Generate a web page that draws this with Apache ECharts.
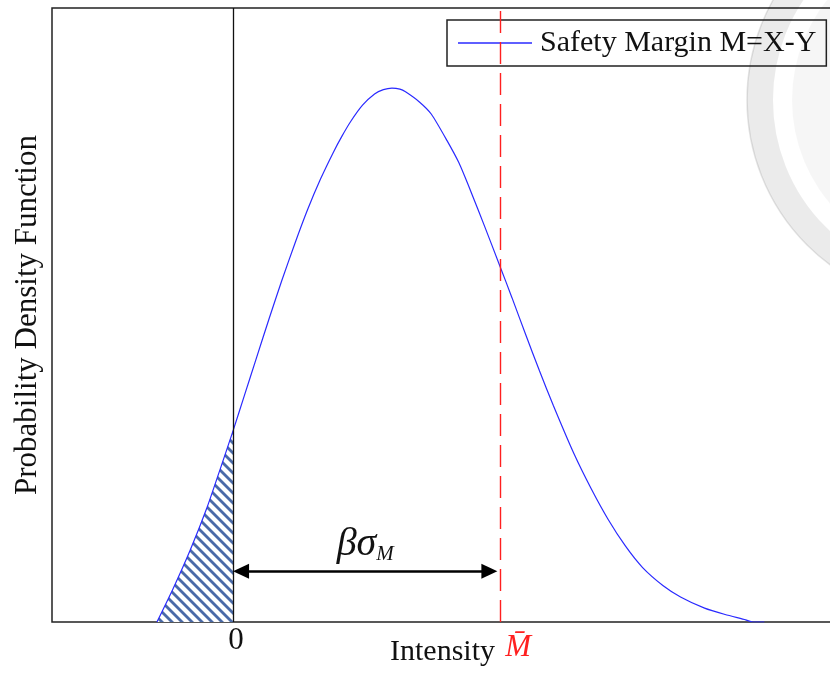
<!DOCTYPE html>
<html>
<head>
<meta charset="utf-8">
<script src="https://cdn.jsdelivr.net/npm/echarts@6/dist/echarts.min.js"></script>
<style>
  html, body { margin: 0; padding: 0; background: #fff; }
  #chart { width: 830px; height: 673px; }
</style>
</head>
<body>
<div id="chart"></div>
<script>
// Density of the safety margin M = X - Y (x in units of the mean M̄, y relative to the peak)
const curveX = [-0.285, -0.225, -0.161, -0.097, -0.049, 0, 0.043, 0.086, 0.135, 0.183, 0.231, 0.279,
  0.328, 0.376, 0.408, 0.440, 0.485, 0.530, 0.563, 0.595, 0.625, 0.646, 0.698, 0.743, 0.801, 0.846,
  0.891, 0.943, 1.0, 1.045, 1.097, 1.148, 1.200, 1.277, 1.341, 1.405, 1.470, 1.534, 1.611, 1.676,
  1.766, 1.843, 1.920, 1.946, 1.99];
const curveY = [0, 0.062, 0.134, 0.215, 0.285, 0.358, 0.425, 0.492, 0.568, 0.640, 0.708, 0.772,
  0.830, 0.880, 0.910, 0.937, 0.968, 0.989, 0.997, 1.0, 0.998, 0.993, 0.974, 0.951, 0.902, 0.860,
  0.806, 0.740, 0.666, 0.607, 0.537, 0.470, 0.405, 0.315, 0.250, 0.192, 0.142, 0.102, 0.068, 0.047,
  0.026, 0.014, 0.004, 0, 0];

// Axis ticks: zero and the mean margin
const tickValues = [0, 1];
const tickLabels = ['0', 'M\u0304'];

// Reference lines and the β·σ_M span (arrow shaft ends sit inside the two arrow heads)
const zeroLine = 0;
const meanLine = 1;
const spanStart = 0.03;
const spanEnd = 0.96;
const spanLevel = 0.095;

const legendName = 'Safety Margin M=X-Y';
const xName = 'Intensity';
const yName = 'Probability Density Function';

const serif = "'Times New Roman', 'Liberation Serif', serif";
const blue = '#2a2aff';

const curve = curveX.map((x, i) => [x, curveY[i]]);
const failure = curve.filter(p => p[0] <= zeroLine);

// diagonal hatch used for the failure region (M < 0)
function hatchPattern() {
  const s = 10;
  const c = document.createElement('canvas');
  c.width = s; c.height = s;
  const g = c.getContext('2d');
  g.fillStyle = '#ffffff';
  g.fillRect(0, 0, s, s);
  g.strokeStyle = '#4a6aa8';
  g.lineWidth = 2.8;
  for (let k = -1; k <= 1; k++) {
    g.beginPath();
    g.moveTo(k * s - 2, -2);
    g.lineTo(k * s + s + 2, s + 2);
    g.stroke();
  }
  return c;
}

const chart = echarts.init(document.getElementById('chart'), null, { renderer: 'canvas' });

chart.setOption({
  animation: false,
  backgroundColor: '#ffffff',
  grid: {
    left: 52, top: 8, right: -3, bottom: 51,
    containLabel: false,
    outerBoundsMode: 'none',
    show: true, borderColor: '#222', borderWidth: 1.5, backgroundColor: 'transparent'
  },
  legend: {
    data: [{ name: legendName, icon: 'rect' }],
    left: 447, top: 20,
    padding: [8, 10, 8, 11],
    borderColor: '#222', borderWidth: 1.5,
    itemWidth: 74, itemHeight: 1.5,
    itemStyle: { color: blue },
    textStyle: { fontFamily: serif, fontSize: 30, color: '#111', padding: [0, 0, 0, 3] }
  },
  xAxis: {
    type: 'value',
    min: -0.678, max: 2.247,
    splitLine: { show: false },
    axisLine: { show: false },
    axisTick: { show: false },
    axisLabel: {
      customValues: tickValues,
      margin: 3,
      formatter: (v) => {
        const i = tickValues.indexOf(v);
        if (i < 0) return '';
        return (i === 1 ? '{m|' : '{z|') + tickLabels[i] + '}';
      },
      rich: {
        z: { fontFamily: serif, fontSize: 31, color: '#111', padding: [0, 0, 0, 6] },
        m: { fontFamily: serif, fontSize: 31, fontStyle: 'italic', color: '#ff2020', padding: [7, 0, 0, 36] }
      }
    },
    name: xName,
    nameLocation: 'middle',
    nameGap: 15,
    nameMoveOverlap: false,
    nameTextStyle: { fontFamily: serif, fontSize: 30, color: '#111', verticalAlign: 'top' }
  },
  yAxis: {
    type: 'value',
    min: 0, max: 1.15,
    splitLine: { show: false },
    axisLine: { show: false },
    axisTick: { show: false },
    axisLabel: { show: false },
    name: yName,
    nameLocation: 'middle',
    nameGap: 9,
    nameMoveOverlap: false,
    nameTextStyle: { fontFamily: serif, fontSize: 31, color: '#111' }
  },
  series: [
    {
      name: 'failure',
      type: 'line',
      data: failure,
      symbol: 'none',
      smooth: 0.2,
      lineStyle: { width: 0 },
      areaStyle: { color: { image: hatchPattern(), repeat: 'repeat' }, opacity: 1 },
      z: 1
    },
    {
      name: legendName,
      type: 'line',
      data: curve,
      symbol: 'none',
      smooth: 0.2,
      lineStyle: { color: blue, width: 1.2 },
      itemStyle: { color: blue },
      z: 3,
      markLine: {
        silent: true,
        symbol: 'none',
        label: { show: false },
        data: [
          { xAxis: zeroLine, lineStyle: { color: '#111', width: 1.3, type: 'solid' } },
          { xAxis: meanLine, lineStyle: { color: '#ff2020', width: 1.4, type: [22, 9] } }
        ]
      }
    },
    {
      name: 'span',
      type: 'line',
      data: [],
      z: 4,
      markLine: {
        silent: true,
        symbol: ['triangle', 'triangle'],
        symbolSize: [15, 16],
        lineStyle: { color: '#000', width: 2.6, type: 'solid' },
        label: {
          show: true,
          position: 'insideMiddleTop',
          distance: 6,
          formatter: '{g|βσ}{s|M}',
          rich: {
            g: { fontFamily: serif, fontStyle: 'italic', fontSize: 40, color: '#111', lineHeight: 42 },
            s: { fontFamily: serif, fontStyle: 'italic', fontSize: 21, color: '#111', lineHeight: 22, verticalAlign: 'bottom' }
          }
        },
        data: [[{ coord: [spanStart, spanLevel] }, { coord: [spanEnd, spanLevel] }]]
      }
    }
  ],
  graphic: [
    {
      type: 'group', z: 200, silent: true,
      children: [
        { type: 'circle', shape: { cx: 952, cy: 100, r: 192 },
          style: { fill: 'none', stroke: 'rgba(0,0,0,0.08)', lineWidth: 26 } },
        { type: 'circle', shape: { cx: 952, cy: 100, r: 205 },
          style: { fill: 'none', stroke: 'rgba(0,0,0,0.1)', lineWidth: 1.5 } },
        { type: 'circle', shape: { cx: 952, cy: 100, r: 160 },
          style: { fill: 'rgba(0,0,0,0.035)', stroke: 'none' } }
      ]
    }
  ]
});
</script>
</body>
</html>
